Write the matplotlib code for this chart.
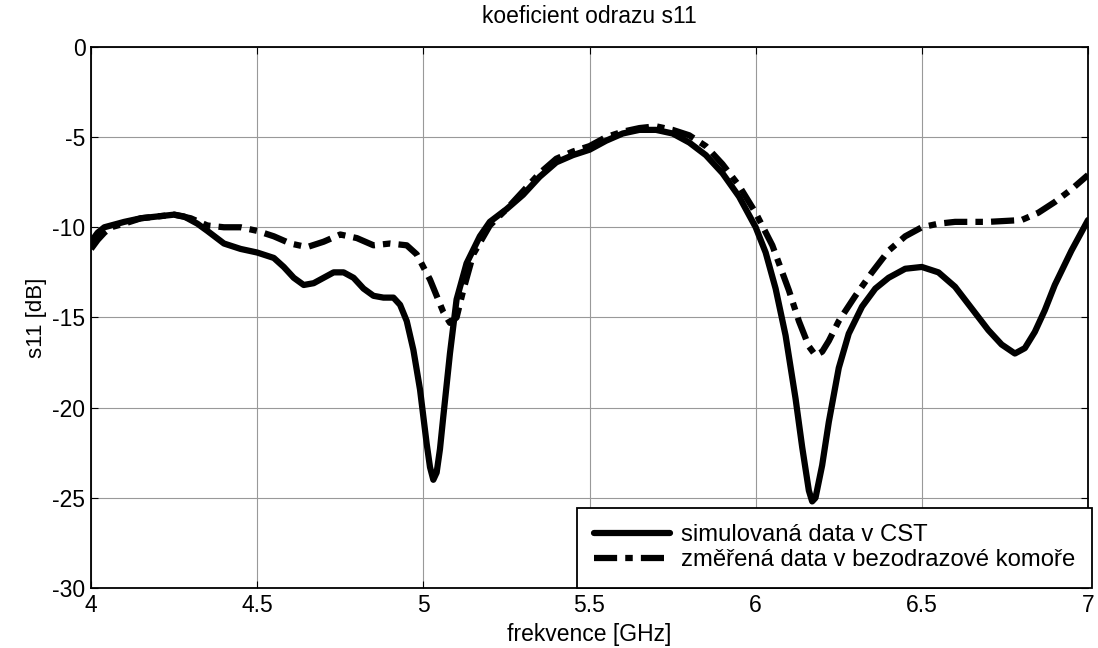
import numpy as np
import matplotlib.pyplot as plt

plt.rcParams['font.family'] = ['Liberation Sans', 'DejaVu Sans']
plt.rcParams['axes.unicode_minus'] = False

# simulated (CST)
f_sim = [4.0, 4.02, 4.04, 4.06, 4.1, 4.15, 4.2, 4.25, 4.28, 4.32, 4.35, 4.4,
         4.45, 4.5, 4.55, 4.58, 4.61, 4.64, 4.67, 4.7, 4.73, 4.76, 4.79, 4.82,
         4.85, 4.88, 4.91, 4.93, 4.95, 4.97, 4.99, 5.0, 5.01, 5.02, 5.03,
         5.04, 5.05, 5.06, 5.08, 5.1, 5.13, 5.17, 5.2, 5.25, 5.3, 5.35, 5.4,
         5.45, 5.5, 5.55, 5.6, 5.65, 5.7, 5.75, 5.8, 5.85, 5.9, 5.95, 6.0,
         6.03, 6.06, 6.09, 6.12, 6.14, 6.16, 6.17, 6.18, 6.2, 6.22, 6.25,
         6.28, 6.32, 6.36, 6.4, 6.45, 6.5, 6.55, 6.6, 6.65, 6.7, 6.74, 6.78,
         6.81, 6.84, 6.87, 6.9, 6.95, 7.0]
s_sim = [-10.8, -10.3, -10.0, -9.9, -9.7, -9.5, -9.4, -9.3, -9.4, -9.8,
         -10.2, -10.9, -11.2, -11.4, -11.7, -12.2, -12.8, -13.2, -13.1, -12.8,
         -12.5, -12.5, -12.8, -13.4, -13.8, -13.9, -13.9, -14.3, -15.2, -16.8,
         -19.0, -20.5, -22.0, -23.3, -24.0, -23.6, -22.3, -20.5, -17.0, -14.0,
         -12.0, -10.5, -9.7, -9.0, -8.2, -7.2, -6.4, -6.0, -5.7, -5.2, -4.8,
         -4.6, -4.6, -4.8, -5.3, -6.0, -7.0, -8.3, -10.0, -11.4, -13.4, -16.0,
         -19.5, -22.2, -24.6, -25.2, -25.0, -23.2, -20.8, -17.8, -15.9, -14.4,
         -13.4, -12.8, -12.3, -12.2, -12.5, -13.3, -14.5, -15.7, -16.5, -17.0,
         -16.7, -15.8, -14.6, -13.2, -11.3, -9.6]

# measured in anechoic chamber
f_meas = [4.0, 4.02, 4.04, 4.06, 4.1, 4.15, 4.2, 4.25, 4.3, 4.35, 4.4, 4.45,
          4.5, 4.55, 4.6, 4.65, 4.7, 4.75, 4.8, 4.85, 4.9, 4.95, 4.98, 5.0,
          5.02, 5.04, 5.06, 5.08, 5.1, 5.12, 5.15, 5.2, 5.25, 5.3, 5.35, 5.4,
          5.45, 5.5, 5.55, 5.6, 5.65, 5.7, 5.75, 5.8, 5.85, 5.9, 5.95, 6.0,
          6.05, 6.1, 6.13, 6.16, 6.18, 6.2, 6.22, 6.25, 6.3, 6.35, 6.4, 6.45,
          6.5, 6.55, 6.6, 6.7, 6.8, 6.85, 6.9, 6.95, 7.0]
s_meas = [-11.2, -10.7, -10.3, -10.0, -9.8, -9.5, -9.4, -9.3, -9.5, -9.9,
          -10.0, -10.0, -10.2, -10.5, -10.9, -11.1, -10.8, -10.4, -10.6, -11.0,
          -10.9, -11.0, -11.5, -12.2, -12.9, -13.8, -14.7, -15.3, -15.0, -13.5,
          -11.5, -9.9, -9.0, -8.0, -7.0, -6.2, -5.8, -5.5, -5.0, -4.7, -4.5,
          -4.4, -4.6, -4.9, -5.5, -6.5, -7.7, -9.2, -11.0, -13.5, -15.2, -16.6,
          -17.1, -16.9, -16.3, -15.2, -13.8, -12.5, -11.3, -10.5, -10.0, -9.8,
          -9.7, -9.7, -9.6, -9.2, -8.6, -7.9, -7.1]

fig = plt.figure(figsize=(10.98, 6.48), dpi=100)
ax = fig.add_axes([0.0829, 0.0926, 0.908, 0.835])

ax.plot(f_sim, s_sim, color='black', lw=4.5, solid_joinstyle='round',
        solid_capstyle='round', label='simulovaná data v CST')
ax.plot(f_meas, s_meas, color='black', lw=4.5, dashes=(3.7, 1.3, 1.2, 1.3),
        dash_joinstyle='round', label='změřená data v bezodrazové komoře')

ax.set_xlim(4, 7)
ax.set_ylim(-30, 0)
ax.set_xticks([4, 4.5, 5, 5.5, 6, 6.5, 7])
ax.set_xticklabels(['4', '4.5', '5', '5.5', '6', '6.5', '7'])
ax.set_yticks([0, -5, -10, -15, -20, -25, -30])
ax.grid(True, color='#999999', lw=0.8)
ax.tick_params(direction='in', top=True, right=True, labelsize=16.5,
               length=5, pad=4)
for sp in ax.spines.values():
    sp.set_linewidth(1.3)

ax.set_title('koeficient odrazu s11', fontsize=16.5, pad=17)
ax.set_xlabel('frekvence [GHz]', fontsize=16.5, labelpad=5)
ax.set_ylabel('s11 [dB]', fontsize=16, labelpad=4)

leg = ax.legend(loc='lower right', fontsize=17.2, fancybox=False,
                framealpha=1, edgecolor='black', borderaxespad=0,
                handlelength=3.2, handletextpad=0.45, borderpad=0.7,
                labelspacing=0.12, bbox_to_anchor=(1.004, 0))
leg.get_frame().set_linewidth(1.3)

fig.savefig('out.png', dpi=100)
